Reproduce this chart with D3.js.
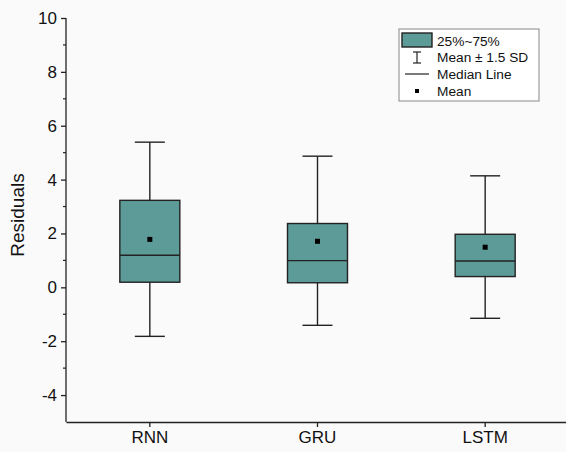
<!DOCTYPE html>
<html>
<head>
<meta charset="utf-8">
<script src="https://cdn.jsdelivr.net/npm/d3@7"></script>
<style>
  body { margin: 0; background: #fafafa; }
  text { font-family: "Liberation Sans", Arial, sans-serif; fill: #111; }
</style>
</head>
<body>
<div id="chart"></div>
<script>
// data
const models = ["RNN", "GRU", "LSTM"];
const q1 = [0.19, 0.17, 0.40];
const q3 = [3.23, 2.37, 1.97];
const medians = [1.19, 0.99, 0.98];
const means = [1.78, 1.71, 1.49];
const whiskLow = [-1.82, -1.41, -1.15];
const whiskHigh = [5.39, 4.87, 4.14];
const yTicks = [-4, -2, 0, 2, 4, 6, 8, 10];
const yMinorTicks = [-3, -1, 1, 3, 5, 7, 9];
const legendItems = ["25%~75%", "Mean \u00b1 1.5 SD", "Median Line", "Mean"];

const W = 566, H = 452;
const margin = {top: 18, left: 66, bottom: 30};
const boxFill = "#5c9b98";

const svg = d3.select("#chart")
  .append("svg")
  .attr("width", W)
  .attr("height", H);

const x = d3.scaleBand()
  .domain(models)
  .range([margin.left, 569]);

const y = d3.scaleLinear()
  .domain([-5, 10])
  .range([H - margin.bottom, margin.top]);

// y axis
const yAxis = svg.append("g")
  .attr("transform", "translate(" + margin.left + ",0)")
  .call(d3.axisLeft(y).tickValues(yTicks).tickFormat(d => String(d)).tickSize(5).tickSizeOuter(0));
yAxis.select(".domain").attr("d", "M0," + y(-5) + "V" + y(10)).attr("stroke", "#222").attr("stroke-width", 1.3);
yAxis.selectAll(".tick line").attr("stroke", "#222").attr("stroke-width", 1.3);
yAxis.selectAll(".tick text").attr("font-size", 17).attr("x", -9);

// minor ticks
svg.append("g")
  .selectAll("line")
  .data(yMinorTicks)
  .enter()
  .append("line")
    .attr("x1", margin.left - 3)
    .attr("x2", margin.left)
    .attr("y1", d => y(d))
    .attr("y2", d => y(d))
    .attr("stroke", "#222")
    .attr("stroke-width", 1.2);

// x axis
const xAxis = svg.append("g")
  .attr("transform", "translate(0," + y(-5) + ")")
  .call(d3.axisBottom(x).tickSize(5).tickSizeOuter(0));
xAxis.select(".domain").attr("stroke", "#222").attr("stroke-width", 1.3);
xAxis.selectAll(".tick line").attr("stroke", "#222").attr("stroke-width", 1.3);
xAxis.selectAll(".tick text").attr("font-size", 17).attr("y", 9);

// y label
svg.append("text")
  .attr("transform", "translate(24,215) rotate(-90)")
  .attr("text-anchor", "middle")
  .attr("font-size", 19)
  .text("Residuals");

// boxes
const boxW = 60, capW = 30;
const rows = models.map((m, i) => ({
  m: m, q1: q1[i], q3: q3[i], med: medians[i], mean: means[i],
  lo: whiskLow[i], hi: whiskHigh[i]
}));
const g = svg.append("g")
  .selectAll("g")
  .data(rows)
  .enter()
  .append("g")
    .attr("transform", d => "translate(" + (x(d.m) + x.bandwidth() / 2) + ",0)");

g.append("line")
  .attr("x1", 0).attr("x2", 0)
  .attr("y1", d => y(d.hi)).attr("y2", d => y(d.lo))
  .attr("stroke", "#222").attr("stroke-width", 1.4);
g.append("line")
  .attr("x1", -capW / 2).attr("x2", capW / 2)
  .attr("y1", d => y(d.hi)).attr("y2", d => y(d.hi))
  .attr("stroke", "#222").attr("stroke-width", 1.4);
g.append("line")
  .attr("x1", -capW / 2).attr("x2", capW / 2)
  .attr("y1", d => y(d.lo)).attr("y2", d => y(d.lo))
  .attr("stroke", "#222").attr("stroke-width", 1.4);
g.append("rect")
  .attr("x", -boxW / 2)
  .attr("width", boxW)
  .attr("y", d => y(d.q3))
  .attr("height", d => y(d.q1) - y(d.q3))
  .attr("fill", boxFill)
  .attr("stroke", "#222")
  .attr("stroke-width", 1.4);
g.append("line")
  .attr("x1", -boxW / 2).attr("x2", boxW / 2)
  .attr("y1", d => y(d.med)).attr("y2", d => y(d.med))
  .attr("stroke", "#222").attr("stroke-width", 1.4);
g.append("rect")
  .attr("x", -2.5)
  .attr("y", d => y(d.mean) - 2.5)
  .attr("width", 5).attr("height", 5)
  .attr("fill", "#000");

// legend
const lg = svg.append("g").attr("transform", "translate(399,29)");
lg.append("rect")
  .attr("width", 140).attr("height", 72)
  .attr("fill", "#fff").attr("stroke", "#888").attr("stroke-width", 1);
lg.append("rect")
  .attr("x", 3).attr("y", 4).attr("width", 30).attr("height", 14)
  .attr("fill", boxFill).attr("stroke", "#222").attr("stroke-width", 1.4);
// error bar symbol
lg.append("line").attr("x1", 18).attr("x2", 18).attr("y1", 23).attr("y2", 34).attr("stroke", "#222").attr("stroke-width", 1.2);
lg.append("line").attr("x1", 14).attr("x2", 22).attr("y1", 23).attr("y2", 23).attr("stroke", "#222").attr("stroke-width", 1.2);
lg.append("line").attr("x1", 14).attr("x2", 22).attr("y1", 34).attr("y2", 34).attr("stroke", "#222").attr("stroke-width", 1.2);
lg.append("line").attr("x1", 6).attr("x2", 30).attr("y1", 45).attr("y2", 45).attr("stroke", "#222").attr("stroke-width", 1.2);
lg.append("rect").attr("x", 16).attr("y", 60).attr("width", 4).attr("height", 4).attr("fill", "#000");
lg.selectAll("text.lab")
  .data(legendItems)
  .enter()
  .append("text")
    .attr("class", "lab")
    .attr("x", 38)
    .attr("y", (d, i) => 12 + i * 16.7)
    .attr("dy", "0.35em")
    .attr("font-size", 13.7)
    .text(d => d);
</script>
</body>
</html>
